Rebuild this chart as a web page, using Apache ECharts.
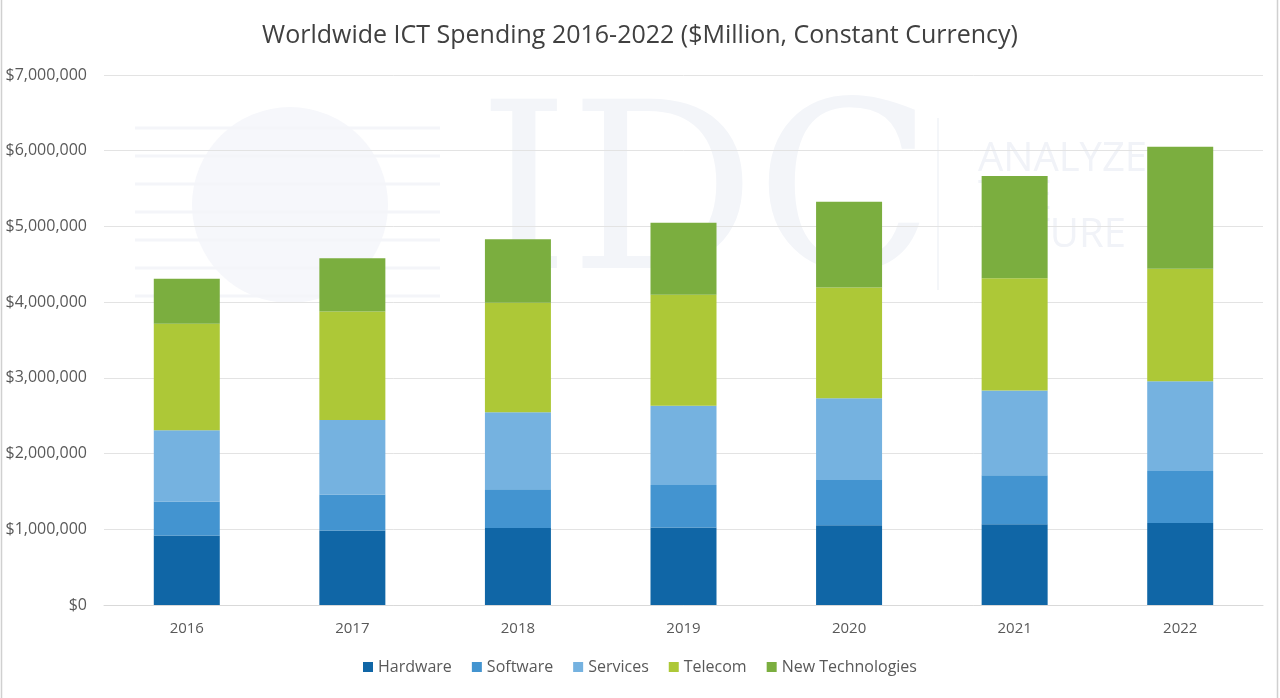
<!DOCTYPE html>
<html>
<head>
<meta charset="utf-8">
<title>Worldwide ICT Spending 2016-2022</title>
<script src="https://cdn.jsdelivr.net/npm/echarts@6/dist/echarts.min.js"></script>
<style>
  html, body { margin: 0; padding: 0; background: #fff; }
  #chart { width: 1280px; height: 698px; }
</style>
</head>
<body>
<div id="chart"></div>
<script>
// data ($Million)
var years = ["2016", "2017", "2018", "2019", "2020", "2021", "2022"];
var hardware = [919000, 985000, 1016000, 1022000, 1053000, 1066000, 1084000];
var software = [447000, 474000, 513000, 564000, 599000, 648000, 687000];
var services = [942000, 985000, 1017000, 1044000, 1079000, 1119000, 1185000];
var telecom = [1406000, 1433000, 1446000, 1467000, 1463000, 1484000, 1485000];
var newTech = [596000, 703000, 838000, 951000, 1132000, 1348000, 1612000];
var seriesNames = ["Hardware", "Software", "Services", "Telecom", "New Technologies"];
var colors = ["#1066a6", "#4394d0", "#75b2e0", "#adc837", "#7bae3f"];

var font = "'Open Sans', 'Noto Sans', sans-serif";
var chart = echarts.init(document.getElementById("chart"));

function money(v) {
  return "$" + v.toString().replace(/\B(?=(\d{3})+(?!\d))/g, ",");
}

var datas = [hardware, software, services, telecom, newTech];
var series = [];
for (var i = 0; i < seriesNames.length; i++) {
  series.push({
    name: seriesNames[i],
    type: "bar",
    stack: "total",
    barWidth: 66,
    itemStyle: { color: colors[i] },
    data: datas[i]
  });
}

// faint IDC watermark behind the plot
var watermark = [
  { type: "rect", shape: { x: 1.5, y: -2, width: 1276, height: 702 },
    style: { fill: "none", stroke: "#d0d0d0", lineWidth: 1.5 }, z: -10 },
  { type: "circle", shape: { cx: 290, cy: 205, r: 98 }, z: -6,
    style: { fill: "#f6f7fb" } },
  { type: "text", left: 478, top: 92, z: -5,
    style: { text: "IDC", fill: "#f3f5f9", font: "normal 232px 'DejaVu Serif', serif" } },
  { type: "line", shape: { x1: 938, y1: 118, x2: 938, y2: 290 }, z: -5,
    style: { stroke: "#f1f3f7", lineWidth: 1.5 } },
  { type: "text", left: 978, top: 140, z: -5,
    style: { text: "ANALYZE\nTHE\nFUTURE", fill: "#f1f3f8", lineHeight: 38,
             font: "normal 40px " + font } }
];
for (var k = 0; k < 7; k++) {
  watermark.push({ type: "line", z: -6,
    shape: { x1: 135, y1: 128 + k * 28, x2: 440, y2: 128 + k * 28 },
    style: { stroke: "#f4f5f9", lineWidth: 3 } });
}

var option = {
  backgroundColor: "#fff",
  animation: false,
  color: colors,
  title: {
    text: "Worldwide ICT Spending 2016-2022 ($Million, Constant Currency)",
    left: "center",
    top: 18,
    textStyle: { fontFamily: font, fontSize: 25, fontWeight: "normal", color: "#404040" }
  },
  legend: {
    data: seriesNames,
    bottom: 18,
    left: "center",
    icon: "rect",
    itemWidth: 10,
    itemHeight: 10,
    itemGap: 20,
    textStyle: { fontFamily: font, fontSize: 16, color: "#595959" }
  },
  grid: { left: 104, right: 17, top: 75, bottom: 93 },
  graphic: watermark,
  xAxis: {
    type: "category",
    data: years,
    axisLine: { show: true, lineStyle: { color: "#d9d9d9" } },
    axisTick: { show: false },
    axisLabel: { fontFamily: font, fontSize: 15, color: "#595959", margin: 16 }
  },
  yAxis: {
    type: "value",
    min: 0,
    max: 7000000,
    interval: 1000000,
    axisLine: { show: false },
    axisTick: { show: false },
    splitLine: { lineStyle: { color: "#e3e3e3" } },
    axisLabel: { fontFamily: font, fontSize: 16, color: "#595959", margin: 17, formatter: money }
  },
  series: series
};

chart.setOption(option);
</script>
</body>
</html>
